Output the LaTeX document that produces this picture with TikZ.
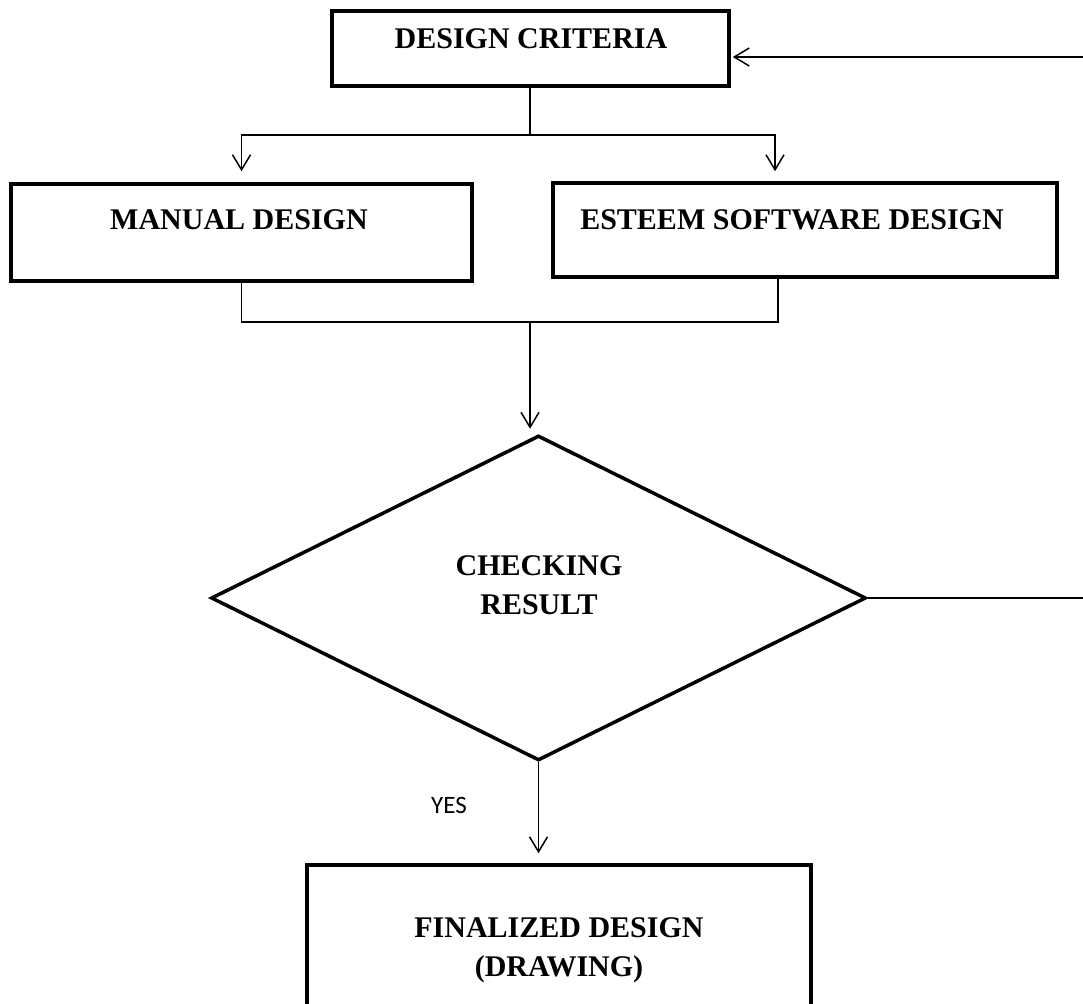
\documentclass[tikz,border=0pt]{standalone}
\usepackage{fontspec}
\setmainfont{Liberation Serif}
\newfontfamily\labelfont{Carlito}
\usetikzlibrary{arrows.meta,shapes.geometric}

\tikzset{
  box/.style={draw, line width=3.5pt, minimum width=#1, inner sep=0pt},
  boxtext/.style={font=\fontsize{30}{39}\selectfont\bfseries, align=center, inner sep=0pt},
  conn/.style={draw, line width=1.5pt},
  arr/.style={conn, -{Straight Barb[length=15pt,width=18pt,line width=1.5pt]}},
}

\begin{document}
\begin{tikzpicture}[x=1pt,y=-1pt]
  \fill[white] (0,0) rectangle (1083,1003);
  \useasboundingbox (0,0) rectangle (1083,1003);

  % process boxes
  \node[box=397pt, minimum height=75pt] (dc)  at (530.5,48.5) {};
  \node[box=461pt, minimum height=97pt] (man) at (241.5,232.5) {};
  \node[box=504pt, minimum height=94pt] (est) at (805,230) {};
  \node[box=504pt, minimum height=200pt] (fin) at (559,965) {};

  % decision
  \node[draw, diamond, line width=3.5pt, minimum width=655pt, minimum height=325pt,
        inner sep=0pt] (dia) at (538.5,598) {};

  % texts
  \node[boxtext] (dct)  at (531,39)  {DESIGN CRITERIA};
  \node[boxtext] (mant) at (239,220) {MANUAL DESIGN};
  \node[boxtext] (estt) at (792,220) {ESTEEM SOFTWARE DESIGN};
  \node[boxtext] (diat) at (539,585) {CHECKING\\RESULT};
  \node[boxtext] (fint) at (559,950) {FINALIZED DESIGN\\(DRAWING)};
  \node[font=\labelfont\fontsize{25}{29}\selectfont, inner sep=0pt] (yes) at (449,805) {YES};

  % split below the criteria box
  \coordinate (split) at (530,135);
  \draw[conn] (dc.south -| split) -- (split);
  \draw[arr, shorten >=11pt] (split) -| (man.north);
  \draw[arr, shorten >=10pt] (split) -| ([xshift=-30pt]est.north);

  % merge into the check
  \coordinate (merge) at (530,322);
  \draw[conn] (man.south) |- (merge);
  \draw[conn] ([xshift=-27pt]est.south) |- (merge);
  \draw[arr, shorten >=5pt] (merge) -- (merge |- dia.north);

  % outcome
  \draw[arr, shorten >=10pt] (dia.south) -- (dia.south |- fin.north);

  % return to the criteria
  \draw[arr, shorten >=2pt] (dia.east) -- ++(240,0) |- ([yshift=-8.5pt]dc.east);
\end{tikzpicture}
\end{document}
